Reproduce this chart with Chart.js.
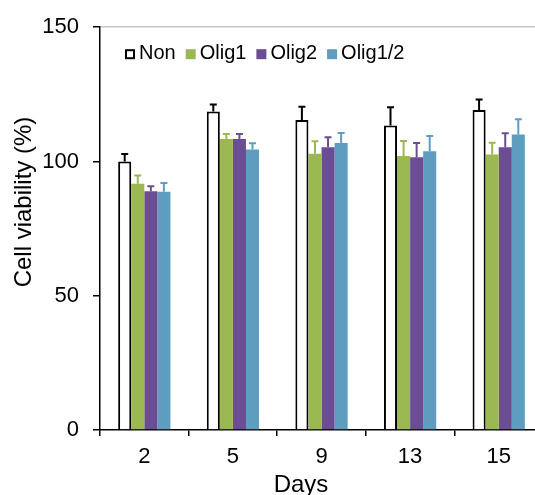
<!DOCTYPE html>
<html><head><meta charset="utf-8">
<script src="https://cdn.jsdelivr.net/npm/chart.js@4"></script>
<style>html,body{margin:0;padding:0;overflow:hidden;background:#fff;width:535px;height:495px}canvas{display:block}</style>
</head><body>
<canvas id="c" width="560" height="495"></canvas>
<script>
const days = ['2', '5', '9', '13', '15'];
const seriesNames = ['Non', 'Olig1', 'Olig2', 'Olig1/2'];
const nonVals = [100, 118.6, 115.4, 113.4, 119.2];
const nonErr = [2.8, 2.6, 5.0, 6.8, 3.9];
const olig1Vals = [91.7, 108.4, 102.9, 102.0, 102.6];
const olig1Err = [3.1, 1.8, 4.6, 5.6, 4.4];
const olig2Vals = [88.9, 108.4, 105.3, 101.6, 105.3];
const olig2Err = [1.9, 1.8, 3.7, 5.3, 5.2];
const olig12Vals = [88.7, 104.5, 106.9, 103.8, 110.0];
const olig12Err = [3.3, 2.3, 3.7, 5.7, 5.7];
const yTicks = [0, 50, 100, 150];

const FONT = "'Liberation Sans', Arial, sans-serif";
const colors = ['#ffffff', '#9bb853', '#6a4d92', '#5f9dc0'];
const errColors = ['#000000', '#9bb853', '#6a4d92', '#5f9dc0'];

const errorBars = {
  id: 'errorBars',
  afterDatasetsDraw(chart) {
    const ctx = chart.ctx, y = chart.scales.y;
    chart.data.datasets.forEach((ds, i) => {
      const meta = chart.getDatasetMeta(i);
      meta.data.forEach((bar, j) => {
        const top = y.getPixelForValue(ds.data[j] + ds.errors[j]);
        ctx.save();
        ctx.strokeStyle = ds.errorColor;
        ctx.lineWidth = 2;
        ctx.beginPath();
        ctx.moveTo(bar.x, bar.y);
        ctx.lineTo(bar.x, top);
        ctx.moveTo(bar.x - 3.5, top);
        ctx.lineTo(bar.x + 3.5, top);
        ctx.stroke();
        ctx.restore();
      });
    });
  }
};

const customLegend = {
  id: 'customLegend',
  afterDraw(chart) {
    const ctx = chart.ctx, ca = chart.chartArea;
    let x = ca.left + 25;
    const yc = ca.top + 26;
    ctx.save();
    ctx.font = '20px ' + FONT;
    ctx.textBaseline = 'middle';
    ctx.textAlign = 'left';
    chart.data.datasets.forEach((ds, i) => {
      ctx.fillStyle = ds.backgroundColor;
      ctx.fillRect(x, yc - 4, 10, 10);
      if (ds.borderWidth) {
        ctx.strokeStyle = '#000';
        ctx.lineWidth = 2;
        ctx.strokeRect(x + 1, yc - 3, 8, 8);
      }
      x += 14;
      ctx.fillStyle = '#000';
      ctx.fillText(ds.label, x, yc);
      x += ctx.measureText(ds.label).width + 10;
    });
    ctx.restore();
  }
};

const axisTitles = {
  id: 'axisTitles',
  afterDraw(chart) {
    const ctx = chart.ctx;
    ctx.save();
    ctx.fillStyle = '#000';
    ctx.font = '24px ' + FONT;
    ctx.textAlign = 'center';
    ctx.textBaseline = 'middle';
    ctx.fillText('Days', 301, 485);
    ctx.translate(24, 202);
    ctx.rotate(-Math.PI / 2);
    ctx.fillText('Cell viability (%)', 0, 0);
    ctx.restore();
  }
};

const vals = [nonVals, olig1Vals, olig2Vals, olig12Vals];
const errs = [nonErr, olig1Err, olig2Err, olig12Err];

new Chart(document.getElementById('c'), {
  type: 'bar',
  data: {
    labels: days,
    datasets: seriesNames.map((n, i) => ({
      label: n,
      data: vals[i],
      errors: errs[i],
      errorColor: errColors[i],
      backgroundColor: colors[i],
      borderColor: '#000',
      borderWidth: i === 0 ? 2 : 0,
      categoryPercentage: 0.59,
      barPercentage: 1.0
    }))
  },
  options: {
    responsive: false,
    animation: false,
    devicePixelRatio: 1,
    layout: { padding: { top: 24, right: 17, bottom: 0, left: 0 } },
    plugins: { legend: { display: false }, tooltip: { enabled: false }, title: { display: false } },
    scales: {
      x: {
        afterFit: s => { s.height = 65; },
        grid: { offset: true, drawOnChartArea: false, drawTicks: true, tickLength: 6, color: '#000', lineWidth: 1.5 },
        border: { display: true, color: '#000', width: 1.5 },
        ticks: { color: '#000', font: { family: FONT, size: 22 }, padding: 8 }
      },
      y: {
        min: 0, max: 150,
        afterFit: s => { s.width = 100; },
        afterBuildTicks: s => { s.ticks = yTicks.map(v => ({ value: v })); },
        grid: {
          drawTicks: true, tickLength: 7, tickColor: '#000', tickWidth: 1.5,
          color: c => (c.tick && c.tick.value === 150) ? '#c4c4c4' : 'rgba(0,0,0,0)',
          lineWidth: 1.5
        },
        border: { display: true, color: '#000', width: 1.5 },
        ticks: { color: '#000', font: { family: FONT, size: 22 }, padding: 14 }
      }
    }
  },
  plugins: [errorBars, customLegend, axisTitles]
});
</script>
</body></html>
